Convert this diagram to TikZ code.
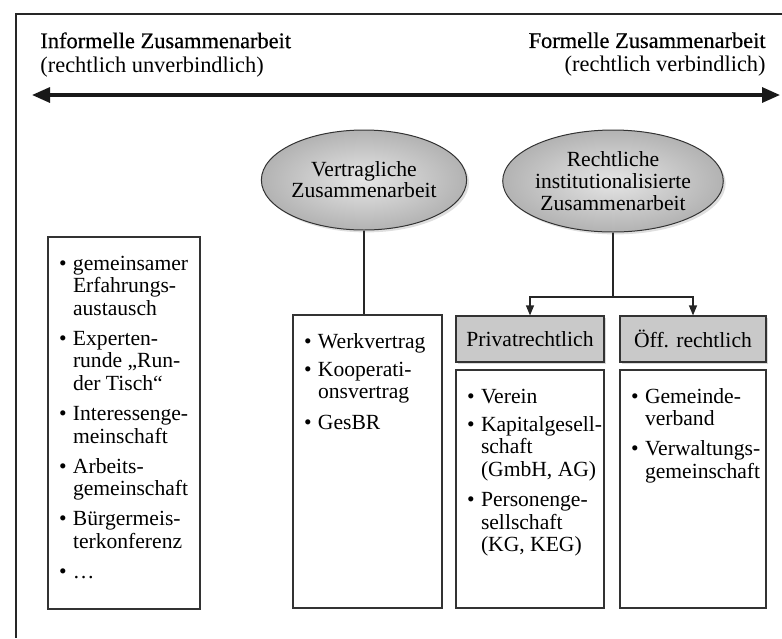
\documentclass[tikz,border=0pt]{standalone}
\usepackage{fontspec}
\setmainfont{Liberation Serif}
\newfontfamily\headfont[FakeBold=0.5]{Liberation Serif}
\usetikzlibrary{arrows.meta,shapes.geometric,shadows,calc}

\newcommand{\listitem}[1]{\hspace*{5.5pt}\makebox[7pt][l]{•}\begin{tabular}[t]{@{}l@{}}#1\end{tabular}\par}
\newcommand{\listbody}[3]{\parbox[c][#2][t]{#1}{\fontsize{10.8}{11.25}\selectfont\setlength{\parskip}{2.8pt}\raggedright\vspace*{6pt}#3}}

\tikzset{
  frameline/.style={line width=0.6pt, draw=black!85},
  mainarrow/.style={line width=1.6pt, draw=black!90, {Triangle[length=9pt,width=7.5pt]}-{Triangle[length=9pt,width=7.5pt]}},
  ellbox/.style={ellipse, draw=black!80, line width=0.5pt, inner sep=0pt,
     shading=radial, inner color=black!10, outer color=black!30,
     align=center, font=\fontsize{10.8}{10.5}\selectfont,
     drop shadow={shadow xshift=1.2pt, shadow yshift=-1.2pt, opacity=0.25}},
  headbox/.style={rectangle, draw=black!80, line width=0.6pt, fill=black!21, inner sep=0pt,
     minimum height=23pt, font=\fontsize{10.8}{12}\selectfont,
     drop shadow={shadow xshift=1pt, shadow yshift=-1pt, opacity=0.3}},
  listbox/.style={rectangle, draw=black!80, line width=0.6pt, inner sep=0pt, fill=white},
  conn/.style={line width=0.6pt, draw=black!85},
  connarrow/.style={conn, -{Triangle[length=5pt,width=4pt]}},
  headtext/.style={inner sep=0pt, font=\fontsize{11.2}{12}\selectfont}
}

\begin{document}
\begin{tikzpicture}[x=0.5pt,y=-0.5pt]
\path[use as bounding box] (0,0) rectangle (782,638);

% frame
\coordinate (ftl) at (16,14);
\coordinate (ftr) at (782,14);
\coordinate (fbl) at (16,638);
\draw[frameline] (ftr) -- (ftl) -- (fbl);

% header texts
\node[headtext, anchor=north west, align=left] (infh) at (40,32)
  {{\headfont Informelle Zusammenarbeit}\\(rechtlich unverbindlich)};
\node[headtext, anchor=north east, align=right] (forh) at (766,32)
  {{\headfont Formelle Zusammenarbeit}\\(rechtlich verbindlich)};

% main arrow
\coordinate (al) at (32,95);
\coordinate (ar) at (780,95);
\draw[mainarrow] (al) -- (ar);

% ellipses
\node[ellbox, minimum width=101pt, minimum height=50pt] (e1) at (364,180)
  {Vertragliche\\Zusammenarbeit};
\node[ellbox, minimum width=102pt, minimum height=51pt, font=\fontsize{10.8}{11}\selectfont] (e2) at (613,181)
  {Rechtliche\\institutionalisierte\\Zusammenarbeit};

% informal list
\node[listbox] (inf) at (124,423) {\listbody{76pt}{186pt}{%
  \listitem{gemeinsamer\\Erfahrungs-\\austausch}
  \listitem{Experten-\\runde „Run-\\der Tisch“}
  \listitem{Interessenge-\\meinschaft}
  \listitem{Arbeits-\\gemeinschaft}
  \listitem{Bürgermeis-\\terkonferenz}
  \listitem{…}}};

% contract list
\node[listbox] (ver) at (367.5,461.5) {\listbody{74.5pt}{146.5pt}{%
  \listitem{Werkvertrag}
  \listitem{Kooperati-\\onsvertrag}
  \listitem{GesBR}}};

% header boxes
\node[headbox, minimum width=74pt] (pri) at (530,339) {Privatrechtlich};
\node[headbox, minimum width=73pt] (oef) at (693,339) {Öff. rechtlich};

% lists under headers
\node[listbox] (pril) at (530,489) {\listbody{74pt}{119pt}{%
  \listitem{Verein}
  \listitem{Kapitalgesell-\\schaft\\(GmbH, AG)}
  \listitem{Personenge-\\sellschaft\\(KG, KEG)}}};
\node[listbox] (oefl) at (693,489) {\listbody{73pt}{119pt}{%
  \listitem{Gemeinde-\\verband}
  \listitem{Verwaltungs-\\gemeinschaft}}};

% connectors
\draw[conn] (e1.south) -- (e1.south |- ver.north);
\coordinate (jn) at (613,297);
\draw[conn] (e2.south) -- (jn);
\draw[connarrow] (jn) -| (pri.north);
\draw[connarrow] (jn) -| (oef.north);
\end{tikzpicture}
\end{document}
